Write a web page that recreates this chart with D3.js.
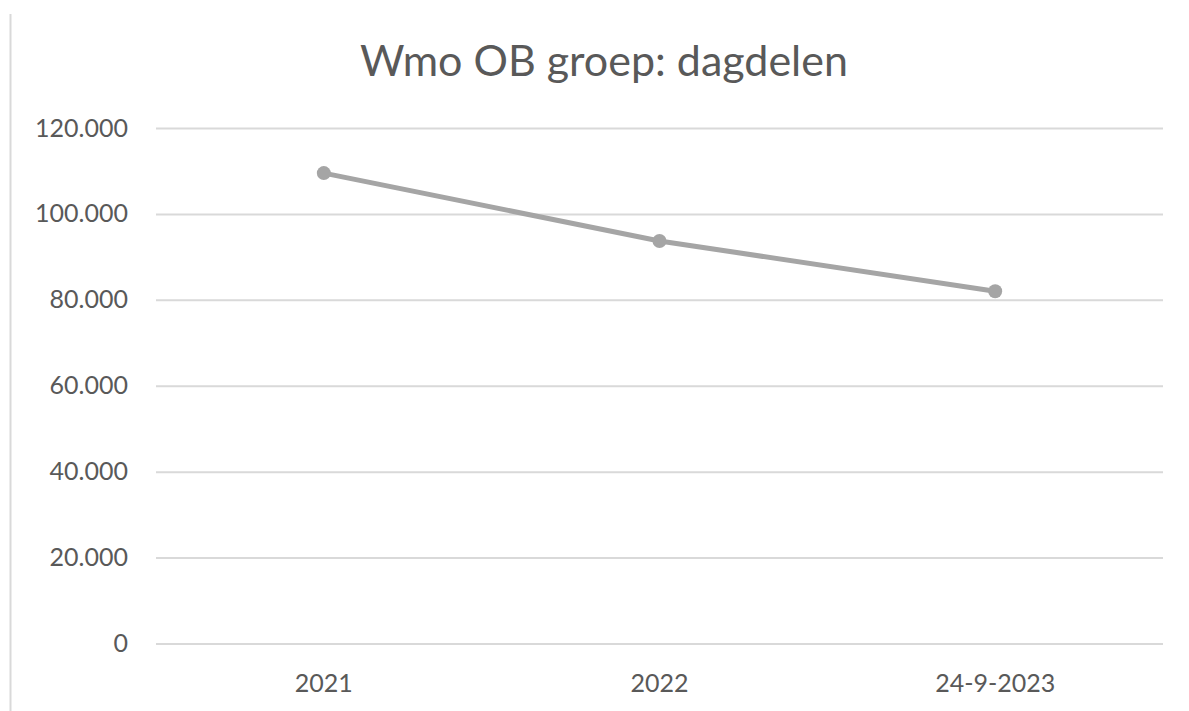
<!DOCTYPE html>
<html><head><meta charset="utf-8">
<script src="https://cdn.jsdelivr.net/npm/d3@7"></script>
<style>body{margin:0;background:#fff;} svg{display:block;}</style>
</head><body>
<svg id="c" width="1189" height="711"></svg>
<script>
const categories = ["2021", "2022", "24-9-2023"];
const values = [109500, 93700, 82000];
const yTicks = [0, 20000, 40000, 60000, 80000, 100000, 120000];
const title = "Wmo OB groep: dagdelen";

const svg = d3.select("#c");
const W = 1189, H = 711;
const m = {left: 156, right: 1163, top: 128, bottom: 643.5};
const font = "Lato, 'Open Sans', sans-serif";
const textColor = "#595959";

// left border line
svg.append("line").attr("x1", 10.5).attr("x2", 10.5).attr("y1", 14).attr("y2", H)
  .attr("stroke", "#d9d9d9").attr("stroke-width", 2);

const x = d3.scaleBand().domain(categories).range([m.left, m.right]);
const y = d3.scaleLinear().domain([0, 120000]).range([m.bottom, m.top]);

const fmt = v => v === 0 ? "0" : d3.format(",.0f")(v).replace(/,/g, ".");

const gy = svg.append("g").attr("transform", `translate(${m.left},0)`)
  .call(d3.axisLeft(y).tickValues(yTicks).tickSize(-(m.right - m.left)).tickFormat(fmt).tickPadding(28));
gy.select(".domain").remove();
gy.selectAll(".tick line").attr("stroke", "#d9d9d9").attr("stroke-width", 2);
gy.selectAll(".tick text").attr("fill", textColor).style("font-family", font).style("font-size", "25px");

const gx = svg.append("g").attr("transform", `translate(0,${m.bottom})`)
  .call(d3.axisBottom(x).tickSize(0).tickPadding(31));
gx.select(".domain").remove();
gx.selectAll(".tick text").attr("fill", textColor).style("font-family", font).style("font-size", "25px");

const data = categories.map((c, i) => ({c, v: values[i]}));
const line = d3.line().x(d => x(d.c) + x.bandwidth() / 2).y(d => y(d.v));
svg.append("path").datum(data).attr("d", line).attr("fill", "none")
  .attr("stroke", "#a5a5a5").attr("stroke-width", 5).attr("stroke-linejoin", "round").attr("stroke-linecap", "round");
svg.selectAll("circle.pt").data(data).join("circle").attr("class", "pt")
  .attr("cx", d => x(d.c) + x.bandwidth() / 2).attr("cy", d => y(d.v)).attr("r", 7)
  .attr("fill", "#a5a5a5");

svg.append("text").attr("x", 604).attr("y", 76).attr("text-anchor", "middle")
  .attr("fill", textColor).style("font-family", font).style("font-size", "43px").text(title);
</script>
</body></html>
